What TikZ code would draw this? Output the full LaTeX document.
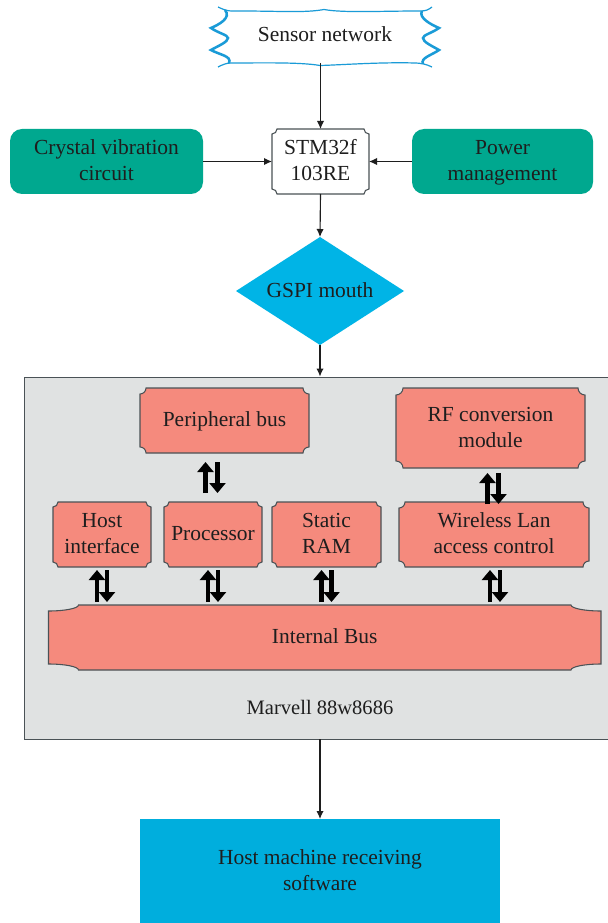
\documentclass[tikz,border=0pt]{standalone}
\usepackage{fontspec}
\setmainfont{Liberation Serif}
\usetikzlibrary{arrows.meta,calc,shapes.geometric}
\definecolor{teal1}{HTML}{00A88F}
\definecolor{sky1}{HTML}{00B4E6}
\definecolor{sky2}{HTML}{00AEDD}
\definecolor{salmon1}{HTML}{F58A7D}
\definecolor{panel1}{HTML}{E0E2E2}
\definecolor{edge1}{HTML}{4A5256}
\definecolor{ink1}{HTML}{1E1E1E}
\definecolor{wave1}{HTML}{1A9BD7}
\newcommand{\tl}[1]{\vrule width 0pt height 14.6pt depth 4.9pt\relax #1}
\tikzset{
  x=0.75pt,y=-0.75pt,
  txt/.style={text=ink1,font=\fontsize{16.1}{19.5}\selectfont,align=center,inner sep=0pt,outer sep=0pt},
  link/.style={draw=ink1,line width=0.85pt,-{Latex[length=6pt,width=5.5pt]}},
  dblarrow/.style={draw=black,line width=3.4pt,-{Triangle[length=7.5pt,width=12pt]}},
  plaquefill/.style={fill=salmon1,draw=edge1,line width=0.8pt},
}
% name, x0, y0, x1, y1, rx, ry, text, fill style
\newcommand{\plaqueBox}[9]{%
  \path[#9] ({#2+#6},#3) -- ({#4-#6},#3)
    .. controls ({#4-#6},{#3+.55*#7}) and ({#4-.55*#6},{#3+#7}) .. (#4,{#3+#7})
    -- (#4,{#5-#7})
    .. controls ({#4-.55*#6},{#5-#7}) and ({#4-#6},{#5-.55*#7}) .. ({#4-#6},#5)
    -- ({#2+#6},#5)
    .. controls ({#2+#6},{#5-.55*#7}) and ({#2+.55*#6},{#5-#7}) .. (#2,{#5-#7})
    -- (#2,{#3+#7})
    .. controls ({#2+.55*#6},{#3+#7}) and ({#2+#6},{#3+.55*#7}) .. ({#2+#6},#3) -- cycle;
  \node[txt,minimum width={(#4-#2)*0.75pt},minimum height={(#5-#3)*0.75pt}] (#1) at ({(#2+#4)/2},{(#3+#5)/2}) {#8};%
}
\begin{document}
\begin{tikzpicture}
\useasboundingbox (0,0) rectangle (607,923);
\fill[white] (0,0) rectangle (607,923);

% panel
\node[draw=edge1,fill=panel1,line width=0.7pt,minimum width={584*0.75pt},minimum height={362*0.75pt},inner sep=0pt] (panel) at (316,558) {};
\node[txt,font=\fontsize{15.4}{19.5}\selectfont] (marvell) at (320,708) {\tl{Marvell 88w8686}};

% sensor wave
\path[fill=white] (218,7) .. controls (228,12) and (232,11) .. (240,11)
  .. controls (280,11) and (305,13) .. (324,9.5)
  .. controls (343,13) and (380,11) .. (420,11)
  .. controls (426,11) and (428,10) .. (432,7)
  -- (422,11) .. controls (418,18) and (432,25) .. (439,28)
  .. controls (432,33) and (423,35) .. (423,38)
  .. controls (423,42) and (432,46) .. (439,50)
  .. controls (432,55) and (420,58) .. (423,64)
  -- (432,67) .. controls (426,64) and (420,63) .. (415,63)
  .. controls (380,62) and (340,65) .. (320,65.5)
  .. controls (300,62) and (260,63) .. (231,63)
  .. controls (226,63) and (222,65) .. (218,67)
  -- (229,63) .. controls (232,56) and (220,55) .. (211,50)
  .. controls (218,46) and (228,42) .. (228,38)
  .. controls (228,35) and (218,33) .. (211,28)
  .. controls (218,25) and (232,18) .. (225,10) -- cycle;
\draw[wave1,line width=0.9pt] (218,7) .. controls (228,12) and (232,11) .. (240,11)
  .. controls (280,11) and (305,13) .. (324,9.5)
  .. controls (343,13) and (380,11) .. (420,11)
  .. controls (426,11) and (428,10) .. (432,7);
\draw[wave1,line width=0.9pt] (432,67) .. controls (426,64) and (420,63) .. (415,63)
  .. controls (380,62) and (340,65) .. (320,65.5)
  .. controls (300,62) and (260,63) .. (231,63)
  .. controls (226,63) and (222,65) .. (218,67);
\draw[wave1,line width=1.9pt] (225,10) .. controls (232,18) and (218,25) .. (211,28)
  .. controls (218,33) and (228,35) .. (228,38)
  .. controls (228,42) and (218,46) .. (211,50)
  .. controls (220,55) and (232,56) .. (229,63);
\draw[wave1,line width=1.9pt] (422,11) .. controls (418,18) and (432,25) .. (439,28)
  .. controls (432,33) and (423,35) .. (423,38)
  .. controls (423,42) and (432,46) .. (439,50)
  .. controls (432,55) and (420,58) .. (423,64);
\node[txt,minimum height={56*0.75pt}] (sensor) at (325,35) {\tl{Sensor network}};

% top row
\node[txt,fill=teal1,rounded corners=9pt,minimum width={193*0.75pt},minimum height={65*0.75pt}] (crystal) at (106.5,161.5) {\tl{Crystal vibration}\\\tl{circuit}};
\node[txt,fill=teal1,rounded corners=9pt,minimum width={181*0.75pt},minimum height={65*0.75pt}] (power) at (502.5,161.5) {\tl{Power}\\\tl{management}};
\plaqueBox{stm}{272}{129}{369}{194}{5}{5}{\tl{STM32f}\\\tl{103RE}}{fill=white,draw=edge1,line width=0.8pt}

% diamond
\node[diamond,aspect=1.556,fill=sky1,inner sep=0pt,outer sep=0pt,minimum width={168*0.75pt},minimum height={108*0.75pt},txt] (gspi) at (320,291) {\tl{GSPI mouth}};

% host
\node[txt,fill=sky2,minimum width={360*0.75pt},minimum height={104*0.75pt}] (hostpc) at (320,871) {\tl{Host machine receiving}\\\tl{software}};

% panel boxes
\plaqueBox{peri}{140}{388}{309}{453}{6}{6}{\tl{Peripheral bus}}{plaquefill}
\plaqueBox{rf}{396}{388}{585}{468}{7}{7}{\tl{RF conversion}\\\tl{module}}{plaquefill}
\plaqueBox{hosti}{53}{502}{151}{567}{5}{5}{\tl{Host}\\\tl{interface}}{plaquefill}
\plaqueBox{proc}{164}{502}{262}{567}{5}{5}{\tl{Processor}}{plaquefill}
\plaqueBox{sram}{272}{502}{381}{567}{5}{5}{\tl{Static}\\\tl{RAM}}{plaquefill}
\plaqueBox{wlan}{399}{502}{589}{567}{6}{6}{\tl{Wireless Lan}\\\tl{access control}}{plaquefill}
\plaqueBox{bus}{48.5}{605}{601}{670}{30}{6}{\tl{Internal Bus}}{plaquefill}

% thin connectors
\draw[link] (sensor.south -| stm.north) -- (stm.north);
\draw[link] (crystal.east) -- (stm.west);
\draw[link] (power.west) -- (stm.east);
\draw[link] (stm.south) -- (gspi.north);
\draw[link] (gspi.south) -- (gspi.south |- panel.north);
\draw[link] (gspi.south |- panel.south) -- (hostpc.north);

% double arrows
\foreach \a/\dx in {hosti/0,proc/0,sram/0,wlan/1}{
  \draw[dblarrow] ($(\a.south)+(-5+\dx,35)$) -- ($(\a.south)+(-5+\dx,3)$);
  \draw[dblarrow] ($(\a.south)+(5+\dx,3)$) -- ($(\a.south)+(5+\dx,35)$);
}
\draw[dblarrow] ($(peri.south)+(-19,40)$) -- ($(peri.south)+(-19,9)$);
\draw[dblarrow] ($(peri.south)+(-7,9)$) -- ($(peri.south)+(-7,40)$);
\draw[dblarrow] ($(rf.south)+(-3,36)$) -- ($(rf.south)+(-3,5)$);
\draw[dblarrow] ($(rf.south)+(8,5)$) -- ($(rf.south)+(8,36)$);
\end{tikzpicture}
\end{document}
